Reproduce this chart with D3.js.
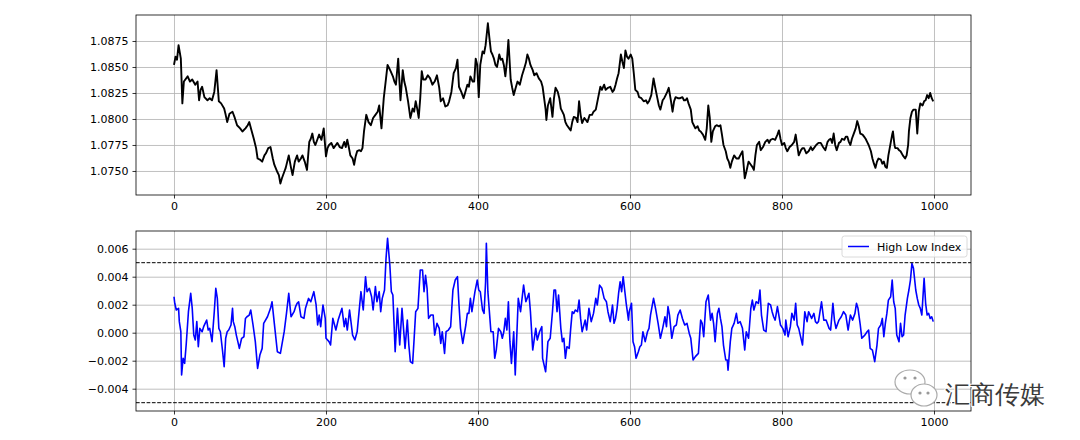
<!DOCTYPE html>
<html>
<head>
<meta charset="utf-8">
<script src="https://cdn.jsdelivr.net/npm/d3@7"></script>
<style>
  body { margin: 0; background: #fff; }
  svg text { font-family: "DejaVu Sans", sans-serif; }
  .axis text { font-size: 11px; fill: #000; }
  .axis path, .axis line { stroke: #000; stroke-width: 0.8; }
  .grid line { stroke: #b0b0b0; stroke-width: 0.8; }
  .grid path { display: none; }
</style>
</head>
<body>
<svg id="chart" width="1080" height="440"></svg>
<script>
// price as [bar, close]
const priceSeries = [
  [0,1.0852],[2,1.0860],[4,1.0857],[6,1.0871],[9,1.0858],[11,1.0815],[13,1.0836],[18,1.0841],[21,1.0836],[24,1.0838],
  [28,1.0833],[31,1.0836],[33,1.0818],[35,1.0828],[37,1.0831],[40,1.0821],[44,1.0818],[47,1.0820],[50,1.0818],[53,1.0826],
  [56,1.0847],[59,1.0817],[62,1.0815],[66,1.0810],[68,1.0804],[70,1.0797],[73,1.0805],[77,1.0807],[80,1.0801],[83,1.0794],
  [87,1.0791],[90,1.0788],[94,1.0791],[97,1.0794],[99,1.0797],[102,1.0789],[105,1.0781],[108,1.0772],[110,1.0762],[113,1.0761],
  [116,1.0759],[119,1.0765],[121,1.0767],[124,1.0772],[127,1.0773],[130,1.0762],[132,1.0756],[136,1.0749],[138,1.0746],[140,1.0738],
  [142,1.0743],[145,1.0749],[147,1.0753],[149,1.0759],[151,1.0765],[154,1.0753],[156,1.0746],[159,1.0759],[162,1.0765],[164,1.0759],
  [167,1.0762],[169,1.0765],[172,1.0759],[175,1.0751],[178,1.0778],[180,1.0781],[182,1.0786],[184,1.0778],[186,1.0775],[189,1.0781],
  [191,1.0785],[194,1.0780],[197,1.0791],[200,1.0764],[202,1.0772],[204,1.0775],[207,1.0777],[210,1.0772],[213,1.0775],[215,1.0777],
  [218,1.0773],[221,1.0772],[224,1.0778],[226,1.0773],[228,1.0780],[230,1.0773],[232,1.0765],[235,1.0762],[237,1.0756],[239,1.0764],
  [241,1.0769],[244,1.0770],[246,1.0769],[248,1.0772],[250,1.0788],[253,1.0804],[256,1.0797],[259,1.0794],[262,1.0801],[265,1.0804],
  [268,1.0807],[270,1.0813],[273,1.0791],[276,1.0820],[279,1.0839],[281,1.0852],[283,1.0849],[285,1.0846],[288,1.0841],[290,1.0836],
  [292,1.0833],[295,1.0858],[298,1.0818],[301,1.0847],[303,1.0836],[305,1.0830],[308,1.0817],[311,1.0801],[314,1.0810],[316,1.0807],
  [318,1.0817],[320,1.0810],[322,1.0801],[324,1.0820],[326,1.0846],[328,1.0838],[331,1.0838],[334,1.0842],[337,1.0839],[340,1.0833],
  [343,1.0836],[346,1.0842],[349,1.0830],[351,1.0817],[354,1.0820],[357,1.0812],[360,1.0813],[362,1.0817],[365,1.0826],[368,1.0844],
  [371,1.0849],[373,1.0857],[375,1.0831],[378,1.0826],[381,1.0820],[383,1.0825],[386,1.0833],[388,1.0831],[390,1.0841],[393,1.0836],
  [395,1.0836],[397,1.0858],[399,1.0852],[401,1.0821],[403,1.0852],[406,1.0865],[408,1.0863],[410,1.0871],[413,1.0892],[415,1.0878],
  [417,1.0865],[419,1.0862],[421,1.0858],[423,1.0852],[425,1.0850],[428,1.0862],[430,1.0857],[432,1.0858],[434,1.0852],[436,1.0841],
  [438,1.0855],[440,1.0876],[443,1.0838],[445,1.0830],[447,1.0823],[450,1.0831],[452,1.0836],[455,1.0833],[458,1.0842],[461,1.0849],
  [463,1.0854],[465,1.0862],[467,1.0858],[469,1.0852],[472,1.0847],[474,1.0842],[477,1.0844],[480,1.0839],[483,1.0836],[485,1.0831],
  [487,1.0820],[489,1.0809],[490,1.0799],[492,1.0813],[495,1.0820],[498,1.0802],[500,1.0820],[502,1.0830],[505,1.0826],[507,1.0820],
  [509,1.0810],[511,1.0807],[513,1.0804],[515,1.0797],[517,1.0794],[520,1.0791],[522,1.0789],[524,1.0797],[526,1.0802],[529,1.0801],
  [531,1.0797],[533,1.0817],[535,1.0804],[537,1.0796],[540,1.0801],[542,1.0799],[544,1.0797],[547,1.0804],[550,1.0804],[552,1.0807],
  [555,1.0809],[558,1.0820],[561,1.0831],[563,1.0828],[566,1.0833],[568,1.0828],[571,1.0830],[574,1.0831],[577,1.0826],[579,1.0828],
  [581,1.0833],[583,1.0839],[585,1.0844],[588,1.0862],[590,1.0855],[592,1.0849],[594,1.0866],[596,1.0860],[598,1.0858],[601,1.0862],
  [603,1.0858],[605,1.0844],[607,1.0828],[610,1.0826],[612,1.0821],[615,1.0820],[618,1.0817],[621,1.0818],[623,1.0815],[625,1.0817],
  [628,1.0823],[631,1.0839],[633,1.0831],[636,1.0820],[638,1.0813],[640,1.0809],[643,1.0818],[645,1.0820],[647,1.0823],[649,1.0826],
  [651,1.0830],[654,1.0817],[656,1.0807],[658,1.0817],[660,1.0821],[663,1.0820],[666,1.0820],[669,1.0821],[671,1.0818],[673,1.0818],
  [675,1.0820],[677,1.0815],[680,1.0809],[682,1.0797],[684,1.0794],[686,1.0791],[689,1.0793],[691,1.0789],[693,1.0788],[696,1.0785],
  [699,1.0780],[701,1.0791],[703,1.0813],[705,1.0801],[707,1.0778],[709,1.0788],[712,1.0793],[714,1.0794],[717,1.0793],[719,1.0794],
  [721,1.0785],[723,1.0775],[726,1.0769],[728,1.0762],[730,1.0759],[732,1.0753],[734,1.0759],[737,1.0765],[740,1.0762],[743,1.0762],
  [745,1.0765],[748,1.0769],[751,1.0743],[753,1.0749],[756,1.0759],[759,1.0756],[761,1.0754],[763,1.0751],[765,1.0765],[767,1.0775],
  [770,1.0778],[772,1.0770],[775,1.0773],[778,1.0778],[781,1.0780],[783,1.0777],[785,1.0780],[788,1.0781],[791,1.0780],[794,1.0785],
  [796,1.0789],[798,1.0781],[800,1.0775],[803,1.0777],[805,1.0772],[807,1.0769],[810,1.0773],[813,1.0775],[816,1.0778],[818,1.0785],
  [820,1.0775],[822,1.0765],[825,1.0770],[827,1.0772],[829,1.0772],[832,1.0767],[835,1.0769],[838,1.0773],[840,1.0770],[842,1.0772],
  [845,1.0775],[848,1.0777],[851,1.0777],[854,1.0773],[857,1.0770],[860,1.0778],[862,1.0780],[864,1.0781],[866,1.0777],[868,1.0786],
  [870,1.0775],[872,1.0770],[875,1.0777],[877,1.0778],[879,1.0781],[882,1.0780],[884,1.0783],[886,1.0783],[888,1.0778],[890,1.0775],
  [892,1.0781],[894,1.0785],[897,1.0791],[899,1.0798],[901,1.0793],[903,1.0786],[906,1.0785],[908,1.0783],[910,1.0781],[912,1.0778],
  [914,1.0775],[917,1.0769],[919,1.0762],[921,1.0757],[923,1.0753],[925,1.0759],[927,1.0762],[930,1.0761],[932,1.0757],[934,1.0759],
  [936,1.0754],[938,1.0753],[940,1.0765],[943,1.0777],[945,1.0785],[946,1.0788],[948,1.0775],[949,1.0772],[952,1.0772],[954,1.0770],
  [956,1.0769],[959,1.0765],[962,1.0762],[964,1.0765],[966,1.0775],[967,1.0788],[969,1.0801],[971,1.0807],[973,1.0809],[976,1.0809],
  [978,1.0786],[980,1.0807],[982,1.0815],[985,1.0813],[987,1.0817],[989,1.0818],[991,1.0823],[993,1.0820],[995,1.0825],[997,1.0820],
  [999,1.0817]
];

// high low index, [bar, value]
const hliSeries = [
  [0,0.00257],[1,0.00210],[3,0.00162],[6,0.00174],[7,0.00079],[9,0.00007],[10,-0.00302],[12,-0.00183],[14,-0.00219],[16,-0.00088],
  [19,0.00150],[22,0.00281],[24,0.00174],[26,-0.00017],[28,-0.00052],[30,0.00079],[32,-0.00100],[34,0.00031],[37,0.00007],[39,0.00043],
  [43,0.00090],[45,0.00019],[47,0.00031],[50,-0.00064],[53,0.00150],[55,0.00317],[57,0.00245],[59,0.00031],[61,0.00007],[64,-0.00136],
  [66,-0.00243],[68,-0.00040],[70,0.00007],[72,0.00019],[75,0.00055],[77,0.00174],[78,0.00079],[80,0.00043],[82,-0.00017],[84,-0.00064],
  [86,-0.00112],[89,-0.00040],[92,-0.00029],[94,0.00102],[96,0.00114],[99,0.00126],[101,0.00162],[104,0.00055],[107,-0.00064],[110,-0.00255],
  [113,-0.00160],[116,-0.00112],[118,0.00067],[123,0.00114],[127,0.00174],[129,0.00221],[132,0.00067],[136,-0.00136],[140,-0.00148],[145,0.00007],
  [148,0.00138],[151,0.00281],[154,0.00114],[158,0.00150],[160,0.00186],[162,0.00210],[164,0.00221],[167,0.00114],[171,0.00102],[173,0.00174],
  [177,0.00245],[180,0.00221],[184,0.00293],[187,0.00198],[189,0.00055],[191,0.00126],[193,0.00043],[196,0.00198],[199,0.00102],[200,-0.00040],
  [204,-0.00064],[206,-0.00088],[209,0.00102],[213,0.00019],[216,0.00090],[221,0.00174],[224,0.00043],[226,0.00102],[228,0.00019],[231,0.00162],
  [235,-0.00017],[238,-0.00052],[241,0.00007],[246,0.00293],[249,0.00162],[252,0.00400],[254,0.00293],[257,0.00317],[260,0.00257],[262,0.00162],
  [265,0.00329],[267,0.00221],[270,0.00293],[272,0.00150],[274,0.00245],[277,0.00305],[279,0.00531],[281,0.00674],[284,0.00483],[286,0.00293],
  [288,0.00269],[291,-0.00136],[294,0.00174],[297,-0.00088],[300,0.00174],[304,-0.00112],[307,0.00090],[309,-0.00088],[311,-0.00207],[314,-0.00219],
  [316,-0.00040],[318,0.00150],[321,0.00174],[324,0.00448],[327,0.00448],[329,0.00293],[331,0.00410],[333,0.00317],[335,0.00102],[338,0.00126],
  [341,0.00126],[343,-0.00017],[346,0.00067],[349,0.00031],[351,-0.00076],[353,0.00007],[356,-0.00148],[358,0.00007],[361,0.00019],[364,0.00043],
  [367,0.00305],[370,0.00376],[373,0.00400],[375,0.00198],[377,0.00031],[380,-0.00076],[384,0.00055],[386,0.00138],[388,0.00138],[390,0.00245],
  [392,0.00150],[396,0.00293],[399,0.00376],[401,0.00305],[403,0.00293],[406,0.00162],[408,0.00138],[410,0.00364],[411,0.00638],[413,0.00293],
  [417,0.00007],[420,0.00007],[422,-0.00183],[424,-0.00124],[427,0.00031],[430,0.00007],[432,-0.00040],[434,0.00007],[436,0.00102],[438,0.00019],
  [440,0.00221],[442,-0.00064],[444,-0.00219],[447,0.00007],[449,-0.00302],[453,0.00245],[456,0.00150],[460,0.00340],[463,0.00221],[467,0.00281],
  [469,0.00150],[472,-0.00124],[476,0.00031],[478,-0.00052],[481,0.00007],[484,0.00043],[485,-0.00183],[489,-0.00279],[492,-0.00064],[495,-0.00040],
  [498,0.00150],[500,0.00305],[502,0.00305],[504,0.00150],[506,0.00269],[509,0.00031],[511,-0.00064],[513,-0.00040],[515,-0.00183],[517,-0.00100],
  [520,-0.00112],[522,0.00031],[524,0.00150],[526,0.00138],[528,0.00162],[531,0.00150],[533,0.00233],[535,0.00102],[537,0.00007],[541,0.00090],
  [543,0.00019],[546,0.00174],[549,0.00079],[552,0.00138],[555,0.00245],[557,0.00198],[560,0.00340],[563,0.00317],[566,0.00245],[569,0.00221],
  [571,0.00150],[574,0.00079],[577,0.00198],[579,0.00067],[581,0.00102],[583,0.00174],[585,0.00281],[587,0.00364],[589,0.00293],[591,0.00400],
  [593,0.00305],[595,0.00210],[598,0.00090],[599,0.00150],[602,0.00210],[604,-0.00064],[606,-0.00100],[608,-0.00183],[611,-0.00136],[613,-0.00100],
  [615,-0.00088],[617,0.00007],[620,-0.00064],[623,0.00007],[625,0.00031],[627,0.00126],[629,0.00186],[631,0.00245],[634,0.00162],[637,0.00067],
  [640,-0.00040],[643,0.00031],[646,0.00114],[648,0.00043],[650,0.00186],[652,0.00126],[655,-0.00040],[658,0.00043],[661,0.00055],[663,0.00126],
  [666,0.00162],[669,0.00102],[672,0.00055],[675,0.00067],[678,-0.00005],[680,-0.00040],[683,-0.00195],[686,-0.00171],[690,-0.00148],[693,0.00090],
  [695,0.00067],[697,-0.00029],[700,0.00221],[703,0.00269],[706,0.00090],[708,0.00138],[710,0.00067],[712,-0.00064],[715,0.00138],[717,0.00174],
  [719,0.00102],[721,0.00043],[723,-0.00088],[726,-0.00195],[728,-0.00195],[729,-0.00267],[732,-0.00064],[734,0.00031],[737,0.00067],[740,0.00138],
  [742,0.00067],[745,0.00079],[748,0.00031],[751,-0.00124],[753,0.00007],[756,-0.00040],[759,0.00174],[761,0.00233],[763,0.00162],[766,0.00221],
  [769,0.00210],[771,0.00305],[773,0.00126],[776,0.00019],[779,0.00007],[782,0.00210],[785,0.00198],[787,0.00150],[789,0.00114],[791,0.00090],
  [794,0.00186],[798,0.00055],[801,0.00031],[804,-0.00017],[805,0.00090],[808,-0.00029],[811,0.00043],[813,0.00138],[816,0.00090],[818,0.00210],
  [820,0.00055],[822,0.00031],[824,-0.00017],[827,-0.00088],[830,0.00150],[833,0.00079],[835,0.00150],[839,0.00102],[842,0.00138],[844,0.00079],
  [846,0.00067],[848,0.00079],[852,0.00221],[855,0.00090],[858,0.00090],[862,0.00031],[864,0.00019],[867,0.00210],[869,0.00090],[871,0.00031],
  [875,0.00090],[878,0.00114],[881,0.00150],[884,0.00126],[887,0.00019],[890,0.00126],[893,0.00090],[896,0.00138],[898,0.00210],[900,0.00174],
  [903,0.00055],[905,-0.00040],[909,-0.00017],[912,0.00007],[914,0.00019],[916,-0.00112],[919,-0.00124],[922,-0.00207],[925,-0.00088],[927,0.00031],
  [930,0.00055],[932,0.00102],[934,-0.00029],[936,0.00067],[938,0.00138],[940,0.00233],[943,0.00257],[945,0.00376],[947,0.00221],[949,0.00174],
  [951,-0.00017],[954,-0.00064],[956,0.00067],[958,-0.00029],[960,-0.00017],[962,0.00126],[965,0.00245],[967,0.00305],[969,0.00376],[971,0.00495],
  [973,0.00460],[976,0.00305],[978,0.00245],[980,0.00198],[982,0.00174],[984,0.00126],[987,0.00388],[989,0.00210],[991,0.00126],[993,0.00138],
  [995,0.00102],[997,0.00114],[999,0.00079]
];

const xTicks = [0, 200, 400, 600, 800, 1000];
const priceTicks = [1.0750, 1.0775, 1.0800, 1.0825, 1.0850, 1.0875];
const hliTicks = [-0.004, -0.002, 0.000, 0.002, 0.004, 0.006];
const hliBands = [0.005, -0.005];
const legendLabel = "High Low Index";
const watermark = "汇商传媒";

let left = 136, right = 971;
let top1 = 15, bottom1 = 195; // upper panel
let top2 = 231, bottom2 = 411; // lower panel

let svg = d3.select("#chart");

let x = d3.scaleLinear().domain([-50, 1048.7]).range([left, right]);
let yPrice = d3.scaleLinear().domain([1.07269, 1.0900]).range([bottom1, top1]);
let yHli = d3.scaleLinear().domain([-0.005593, 0.007264]).range([bottom2, top2]);

let minusFmt = (f) => (d) => d3.format(f)(d).replace("-", "\u2212");

function panel(y, top, bottom, yTicks) {
  let g = svg.append("g");
  // grid
  g.append("g")
    .attr("class", "grid")
    .attr("transform", "translate(0," + bottom + ")")
    .call(d3.axisBottom(x).tickValues(xTicks).tickSize(-(bottom - top)).tickFormat(""));
  g.append("g")
    .attr("class", "grid")
    .attr("transform", "translate(" + left + ",0)")
    .call(d3.axisLeft(y).tickValues(yTicks).tickSize(-(right - left)).tickFormat(""));
  return g;
}

function axes(g, y, top, bottom, yTicks, yFmt) {
  let xa = g.append("g")
    .attr("class", "axis")
    .attr("transform", "translate(0," + bottom + ")")
    .call(d3.axisBottom(x).tickValues(xTicks).tickSize(3.5).tickPadding(4).tickFormat(d3.format("d")));
  xa.select(".domain").remove();
  let ya = g.append("g")
    .attr("class", "axis")
    .attr("transform", "translate(" + left + ",0)")
    .call(d3.axisLeft(y).tickValues(yTicks).tickSize(3.5).tickPadding(4).tickFormat(yFmt));
  ya.select(".domain").remove();
  g.append("rect")
    .attr("x", left).attr("y", top)
    .attr("width", right - left).attr("height", bottom - top)
    .attr("fill", "none").attr("stroke", "#000").attr("stroke-width", 0.8);
}

// upper panel: price
let g1 = panel(yPrice, top1, bottom1, priceTicks);
let priceLine = d3.line().x((d) => x(d[0])).y((d) => yPrice(d[1]));
g1.append("path")
  .datum(priceSeries)
  .attr("d", priceLine)
  .attr("fill", "none")
  .attr("stroke", "#000")
  .attr("stroke-width", 1.9)
  .attr("stroke-linejoin", "round");
axes(g1, yPrice, top1, bottom1, priceTicks, d3.format(".4f"));

// lower panel: high low index
let g2 = panel(yHli, top2, bottom2, hliTicks);
let hliLine = d3.line().x((d) => x(d[0])).y((d) => yHli(d[1]));
g2.append("path")
  .datum(hliSeries)
  .attr("d", hliLine)
  .attr("fill", "none")
  .attr("stroke", "#0000ff")
  .attr("stroke-width", 1.6)
  .attr("stroke-linejoin", "round");
hliBands.forEach((b) => {
  g2.append("line")
    .attr("x1", left).attr("x2", right)
    .attr("y1", yHli(b)).attr("y2", yHli(b))
    .attr("stroke", "#000").attr("stroke-width", 1)
    .attr("stroke-dasharray", "3.7,1.6");
});
axes(g2, yHli, top2, bottom2, hliTicks, minusFmt(".3f"));

// legend
let lg = svg.append("g").attr("transform", "translate(842,236)");
lg.append("rect")
  .attr("width", 125).attr("height", 21).attr("rx", 2.5)
  .attr("fill", "#fff").attr("fill-opacity", 0.8)
  .attr("stroke", "#d0d0d0").attr("stroke-width", 0.8);
lg.append("line")
  .attr("x1", 6).attr("x2", 27).attr("y1", 10.5).attr("y2", 10.5)
  .attr("stroke", "#0000ff").attr("stroke-width", 1.5);
lg.append("text")
  .attr("x", 35).attr("y", 14.5)
  .attr("font-size", "11px")
  .text(legendLabel);

// watermark
let wm = svg.append("g").attr("transform", "translate(894,368)");
wm.append("ellipse").attr("cx", 16).attr("cy", 14).attr("rx", 15).attr("ry", 12)
  .attr("fill", "#fff").attr("fill-opacity", 0.85).attr("stroke", "#aaa").attr("stroke-width", 1.2);
wm.append("ellipse").attr("cx", 30).attr("cy", 27).attr("rx", 13).attr("ry", 11)
  .attr("fill", "#fff").attr("stroke", "#aaa").attr("stroke-width", 1.2);
[[11, 10], [21, 10], [26, 25], [34, 25]].forEach((p) => {
  wm.append("circle").attr("cx", p[0]).attr("cy", p[1]).attr("r", 1.6).attr("fill", "#999");
});
svg.append("text")
  .attr("x", 945).attr("y", 403)
  .attr("font-family", "'Noto Sans CJK SC', sans-serif")
  .attr("font-size", "25px")
  .attr("fill", "#3a3a3a")
  .attr("stroke", "#fff").attr("stroke-width", 2).attr("paint-order", "stroke")
  .text(watermark);
</script>
</body>
</html>
